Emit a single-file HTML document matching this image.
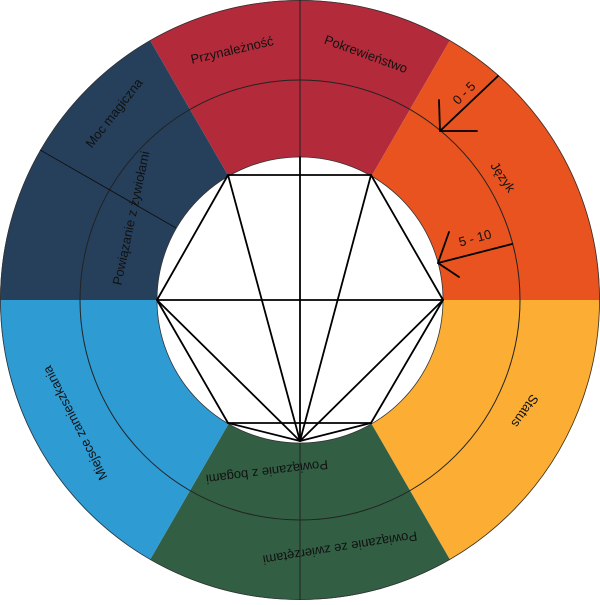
<!DOCTYPE html>
<html><head><meta charset="utf-8"><style>
html,body{margin:0;padding:0;background:#fff}
svg text{font-family:"Liberation Sans",sans-serif;font-size:13px;fill:#111}
</style></head><body>
<svg width="600" height="600" viewBox="0 0 600 600" xmlns="http://www.w3.org/2000/svg">
<path d="M300,300 L150,40.2 A300,300 0 0 1 450,40.2 Z" fill="#b32b3b"/>
<path d="M300,300 L450,40.2 A300,300 0 0 1 600,300 Z" fill="#e8531f"/>
<path d="M300,300 L600,300 A300,300 0 0 1 450,559.8 Z" fill="#fbae33"/>
<path d="M300,300 L450,559.8 A300,300 0 0 1 150,559.8 Z" fill="#325f44"/>
<path d="M300,300 L150,559.8 A300,300 0 0 1 0,300 Z" fill="#2f9bd3"/>
<path d="M300,300 L0,300 A300,300 0 0 1 150,40.2 Z" fill="#26405c"/>
<circle cx="300" cy="300" r="299.5" fill="none" stroke="#333" stroke-width="0.8"/>
<circle cx="300" cy="300" r="220" fill="none" stroke="#222" stroke-width="1"/>
<line x1="300" y1="0" x2="300" y2="160" stroke="#222" stroke-width="1"/>
<line x1="300" y1="440" x2="300" y2="600" stroke="#222" stroke-width="1"/>
<line x1="40.2" y1="150" x2="176" y2="228" stroke="#111" stroke-width="1"/>
<circle cx="300" cy="300" r="143" fill="#fff" stroke="#333" stroke-width="0.8"/>
<g stroke="#000" stroke-width="1.8" fill="none" stroke-linecap="round">
<line x1="228" y1="175" x2="371" y2="175"/>
<line x1="228" y1="175" x2="157" y2="300"/>
<line x1="371" y1="175" x2="443" y2="300"/>
<line x1="157" y1="300" x2="443" y2="300"/>
<line x1="300" y1="157" x2="300" y2="441"/>
<line x1="228" y1="175" x2="300" y2="441"/>
<line x1="371" y1="175" x2="300" y2="441"/>
<line x1="157" y1="300" x2="300" y2="441"/>
<line x1="443" y1="300" x2="300" y2="441"/>
<line x1="157" y1="300" x2="228" y2="423"/>
<line x1="443" y1="300" x2="371" y2="423"/>
<line x1="228" y1="423" x2="371" y2="423"/>
<line x1="228" y1="423" x2="300" y2="441"/>
<line x1="371" y1="423" x2="300" y2="441"/>
<line x1="498" y1="76" x2="440" y2="131"/>
<line x1="440" y1="131" x2="439" y2="100"/>
<line x1="440" y1="131" x2="477" y2="131"/>
<line x1="512" y1="244" x2="438" y2="263"/>
<line x1="438" y1="263" x2="449" y2="232"/>
<line x1="438" y1="263" x2="459" y2="277"/>
</g>
<g text-anchor="middle" dominant-baseline="central">
<text transform="translate(232,50) rotate(-13)">Przynależność</text>
<text transform="translate(366,54) rotate(20)">Pokrewieństwo</text>
<text transform="translate(503,177) rotate(56)">Język</text>
<text transform="translate(464,93) rotate(-45)">0 - 5</text>
<text transform="translate(475,238) rotate(-15)">5 - 10</text>
<text transform="translate(525,411) rotate(125)">Status</text>
<text transform="translate(340,548) rotate(171)">Powiązanie ze zwierzętami</text>
<text transform="translate(267,472) rotate(173)">Powiązanie z bogami</text>
<text transform="translate(75,423) rotate(-117)">Miejsce zamieszkania</text>
<text transform="translate(131,218) rotate(-78)">Powiązanie z żywiołami</text>
<text transform="translate(114,113) rotate(-52)">Moc magiczna</text>
</g>
</svg>
</body></html>
